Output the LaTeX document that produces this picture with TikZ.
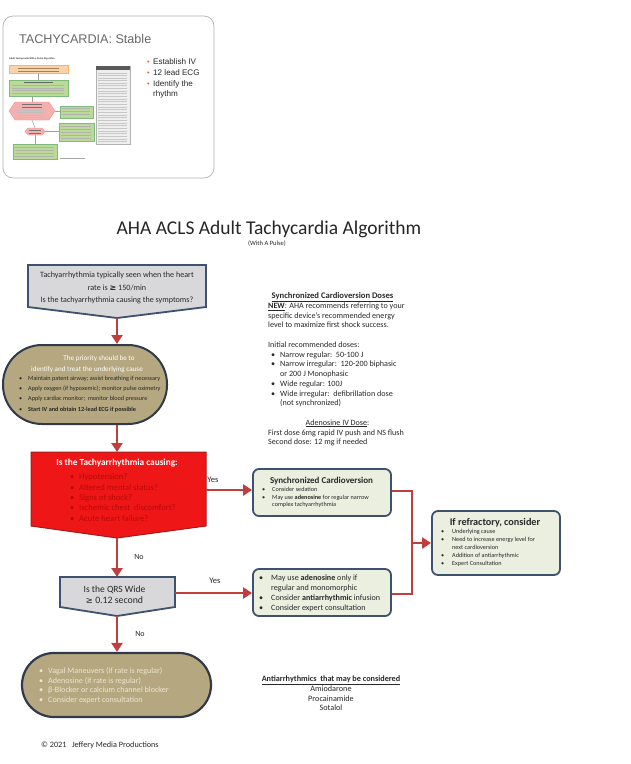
\documentclass[tikz,border=0pt]{standalone}
\usepackage{fontspec}
\setmainfont{Carlito}
\newfontfamily\arialf{Liberation Sans}
\newfontfamily\dejavu{DejaVu Sans}
\usetikzlibrary{arrows.meta}
\definecolor{arrred}{RGB}{192,62,62}
\definecolor{navyb}{RGB}{62,82,112}
\definecolor{grayf}{RGB}{216,216,218}
\definecolor{tanf}{RGB}{181,168,128}
\definecolor{tanb}{RGB}{48,58,72}
\definecolor{redf}{RGB}{238,22,22}
\definecolor{redb}{RGB}{160,30,30}
\definecolor{redtxt}{RGB}{185,10,10}
\definecolor{greenf}{RGB}{234,239,224}
\definecolor{txt}{RGB}{40,40,40}
\definecolor{lighttxt}{RGB}{236,230,210}
\definecolor{slidegray}{RGB}{105,105,105}
\definecolor{bulor}{RGB}{222,110,60}
\definecolor{thorange}{RGB}{250,210,170}
\definecolor{thgreen}{RGB}{186,218,150}
\definecolor{thpink}{RGB}{244,175,175}
\definecolor{thpanel}{RGB}{238,238,238}
\begin{document}
\begin{tikzpicture}[x=1pt,y=-1pt,
  arr/.style={draw=arrred,line width=2.6pt,-{Triangle[length=9pt,width=11pt]}},
  conn/.style={draw=arrred,line width=2.6pt},
  lt/.style={anchor=base west,inner sep=0pt},
  ct/.style={anchor=base,inner sep=0pt},
  fR/.style={font=\fontsize{8.1}{9}\selectfont,text=txt},
  fB2/.style={font=\fontsize{6.2}{8}\selectfont,text=txt},
  fS/.style={font=\fontsize{6.2}{7}\selectfont,text=txt},
  fW/.style={font=\fontsize{8.1}{9}\selectfont,text=txt},
  fV/.style={font=\fontsize{8.1}{9}\selectfont,text=lighttxt},
  fRd/.style={font=\fontsize{8.6}{9}\selectfont,text=redtxt},
  fL/.style={font=\fontsize{8.2}{9}\selectfont,text=txt},
  rbox/.style={draw=navyb,fill=greenf,line width=1.8pt,rounded corners=6pt,inner sep=0pt},
  thl/.style={draw=gray!75,line width=0.5pt},
  thbox/.style={line width=0.35pt}
]
\useasboundingbox (0,0) rectangle (630,764);
\fill[white] (0,0) rectangle (630,764);

% ---------------- slide thumbnail ----------------
\draw[draw=gray!60,line width=0.7pt,rounded corners=10pt,fill=white] (3,16) rectangle (214,178);
\node[lt,font=\arialf\fontsize{12.6}{14}\selectfont,text=slidegray] (sltitle) at (19,43.5) {TACHYCARDIA: Stable};
\node[lt,font=\arialf\fontsize{7.5}{9}\selectfont,text=bulor] (sb1) at (147,64) {•};
\node[lt,font=\arialf\fontsize{7.5}{9}\selectfont,text=bulor] (sb2) at (147,75) {•};
\node[lt,font=\arialf\fontsize{7.5}{9}\selectfont,text=bulor] (sb3) at (147,86) {•};
\node[lt,font=\arialf\fontsize{8.1}{10}\selectfont,text=txt] (st1) at (153,64.5) {Establish IV};
\node[lt,font=\arialf\fontsize{8.1}{10}\selectfont,text=txt] (st2) at (153,75.5) {12 lead ECG};
\node[lt,font=\arialf\fontsize{8.1}{10}\selectfont,text=txt] (st3) at (153,86.5) {Identify the};
\node[lt,font=\arialf\fontsize{8.1}{10}\selectfont,text=txt] (st4) at (153,96.5) {rhythm};
% mini algorithm
\node[lt,font=\arialf\bfseries\fontsize{2.3}{3}\selectfont,text=txt] (thtitle) at (9,59) {Adult Tachycardia With a Pulse Algorithm};
\draw[thl] (38,73) -- (38,80);
\draw[thl] (32,96) -- (32,102);
\draw[thl] (55,111) -- (60,111);
\draw[thl] (32,120) -- (35,128);
\draw[thl] (45,131.5) -- (59,131.5);
\draw[thl] (35,135) -- (35,144);
\draw[thbox,fill=thorange,draw=orange!60] (9,65) rectangle (68,73);
\draw[thbox,fill=thgreen,draw=green!45!black!50] (9,80) rectangle (68,96);
\draw[thbox,fill=thpink,draw=red!45] (9,111) -- (15,102) -- (49,102) -- (55,111) -- (49,120) -- (15,120) -- cycle;
\draw[thbox,fill=thgreen,draw=green!45!black!50] (60,106) rectangle (93,118);
\draw[thbox,fill=thpink,draw=red!45] (25,131.5) -- (28,128) -- (42,128) -- (45,131.5) -- (42,135) -- (28,135) -- cycle;
\draw[thbox,fill=thgreen,draw=green!45!black!50] (59,123) rectangle (94,141);
\draw[thbox,fill=thgreen,draw=green!45!black!50] (13,144) rectangle (57,159);
\draw[thbox,fill=thpanel,draw=gray!60] (96,66) rectangle (130,144);
\fill[gray!70!black] (96,66) rectangle (130,69.5);
\foreach \yy in {68.2,70.8} \draw[draw=gray!70!orange,line width=0.4pt] (18,\yy) -- (59,\yy);
\draw[draw=black!60,line width=0.5pt] (24,82.5) -- (53,82.5);
\foreach \yy in {85.5,88,90.5,93} \draw[draw=black!30,line width=0.4pt] (12,\yy) -- (64,\yy);
\foreach \yy in {104.5,107} \draw[draw=black!55,line width=0.4pt] (22,\yy) -- (42,\yy);
\foreach \yy in {110,112.5,115,117.5} \draw[draw=black!25,line width=0.4pt] (17,\yy) -- (44,\yy);
\foreach \yy in {108.5,111.5,114.5} \draw[draw=black!30,line width=0.4pt] (62,\yy) -- (90,\yy);
\foreach \yy in {130.5,132.8} \draw[draw=black!55,line width=0.4pt] (29,\yy) -- (41,\yy);
\foreach \yy in {126,129,132,135,138} \draw[draw=black!30,line width=0.4pt] (61,\yy) -- (91,\yy);
\foreach \yy in {147,150,153,156} \draw[draw=black!30,line width=0.4pt] (15,\yy) -- (54,\yy);
\foreach \yy in {73,75.5,78,80.5,83,85.5,88,91,93.5,96,99,101.5,104,107,109.5,112,115,117.5,120,123,125.5,128,131,133.5,136,139,141.5}
  \draw[draw=black!22,line width=0.4pt] (98,\yy) -- (127,\yy);
\draw[draw=black!35,line width=0.4pt] (60,158) -- (85,158);

% ---------------- main title ----------------
\node[ct,font=\fontsize{19.5}{22}\selectfont,text=black!85] (title) at (269,234.5) {AHA ACLS Adult Tachycardia Algorithm};
\node[ct,font=\fontsize{6.5}{7}\selectfont,text=txt] (subt) at (267,245) {(With A Pulse)};

% ---------------- box 1 ----------------
\draw[fill=grayf,draw=navyb,line width=1.8pt] (28,265) -- (206,265) -- (206,307) -- (117,318) -- (28,307) -- cycle;
\coordinate (b1tip) at (117,318);
\node[ct,font=\fontsize{8.1}{9}\selectfont,text=txt] (b1l1) at (117,277.5) {Tachyarrhythmia typically seen when the heart};
\node[ct,font=\fontsize{8.1}{9}\selectfont,text=txt] (b1l2) at (117,290) {rate is {\dejavu\bfseries ≥} 150/min};
\node[ct,font=\fontsize{8.1}{9}\selectfont,text=txt] (b1l3) at (117,302.5) {Is the tachyarrhythmia causing the symptoms?};

% ---------------- box 2 (priority) ----------------
\node[draw=tanb,fill=tanf,line width=2pt,rounded corners=39pt,minimum width=164pt,minimum height=79pt,inner sep=0pt] (b2) at (85,384.5) {};
\draw[arr] (b1tip) -- (b1tip |- b2.north);
\node[ct,font=\fontsize{7.1}{9}\selectfont,text=white] (b2h1) at (99,360.5) {The priority should be to};
\node[ct,font=\fontsize{7.1}{9}\selectfont,text=white] (b2h2) at (87,371) {identify and treat the underlying cause};
\node[lt,fB2] (b2d1) at (19,380.5) {•};
\node[lt,fB2] (b2d2) at (19,390.5) {•};
\node[lt,fB2] (b2d3) at (19,400.5) {•};
\node[lt,fB2] (b2d4) at (19,411) {•};
\node[lt,fB2] (b2t1) at (28,380.5) {Maintain patent airway; assist breathing if necessary};
\node[lt,fB2] (b2t2) at (28,390.5) {Apply oxygen (if hypoxemic); monitor pulse oximetry};
\node[lt,fB2] (b2t3) at (28,400.5) {Apply cardiac monitor;\ \ monitor blood pressure};
\node[lt,fB2] (b2t4) at (28,411) {\bfseries Start IV and obtain 12-lead ECG if possible};

% ---------------- red decision ----------------
\draw[fill=redf,draw=redb,line width=1pt] (31,452) -- (206,452) -- (206,526) -- (117,538) -- (31,526) -- cycle;
\coordinate (redtop) at (117,452);
\coordinate (redtip) at (117,538);
\coordinate (redR) at (206,490);
\draw[arr] (redtop |- b2.south) -- (redtop);
\node[ct,font=\bfseries\fontsize{9.3}{10}\selectfont,text=white] (rh) at (117,465) {Is the Tachyarrhythmia causing:};
\foreach \yy/\tt [count=\i] in {479.5/Hypotension?,490/Altered mental status?,500/Signs of shock?,510.5/Ischemic chest\ \ discomfort?,521.5/Acute heart failure?}{
  \node[lt,fRd] (rd\i) at (70,\yy) {•};
  \node[lt,fRd] (rt\i) at (79,\yy) {\tt};
}

% ---------------- QRS decision ----------------
\draw[fill=grayf,draw=navyb,line width=1.8pt] (60,577) -- (175,577) -- (175,607) -- (117,616) -- (60,607) -- cycle;
\coordinate (qrstop) at (117,577);
\coordinate (qrstip) at (117,616);
\coordinate (qrsR) at (175,593);
\node[ct,font=\fontsize{9.5}{10}\selectfont,text=txt] (q1) at (114.5,592) {Is the QRS Wide};
\node[ct,font=\fontsize{9.8}{10}\selectfont,text=txt] (q2) at (114.5,603) {{\dejavu\fontsize{8.5}{10}\selectfont ≥} 0.12 second};
\draw[arr] (redtip) -- (qrstop);
\node[ct,font=\fontsize{8}{9}\selectfont,text=txt] (no1) at (139,559) {No};

% ---------------- vagal box ----------------
\node[draw=tanb,fill=tanf,line width=2.2pt,rounded corners=32pt,minimum width=189pt,minimum height=64pt,inner sep=0pt] (vag) at (116.5,685) {};
\draw[arr] (qrstip) -- (qrstip |- vag.north);
\node[ct,font=\fontsize{8}{9}\selectfont,text=txt] (no2) at (140,636) {No};
\foreach \yy/\tt [count=\i] in {673.5/Vagal Maneuvers (if rate is regular),683/Adenosine (if rate is regular),692.5/β-Blocker or calcium channel blocker,702.5/Consider expert consultation}{
  \node[lt,fV] (vd\i) at (39,\yy) {•};
  \node[lt,fV] (vt\i) at (48,\yy) {\tt};
}
\node[lt,font=\fontsize{8.2}{9}\selectfont,text=txt] (foot) at (41,747.5) {© 2021\ \ \ Jeffery Media Productions};

% ---------------- synchronized cardioversion ----------------
\node[rbox,minimum width=138pt,minimum height=47pt] (sync) at (322,492.5) {};
\draw[arr] (redR) -- (sync.west |- redR);
\node[ct,font=\fontsize{8.5}{9}\selectfont,text=txt] (yes1) at (213,482) {Yes};
\node[ct,font=\bfseries\fontsize{9}{10}\selectfont,text=txt] (syh) at (321.5,483) {Synchronized Cardioversion};
\node[lt,fS] (syd1) at (262,491) {•};
\node[lt,fS] (syt1) at (272,491) {Consider sedation};
\node[lt,fS] (syd2) at (262,499) {•};
\node[lt,fS] (syt2) at (272,499) {May use \textbf{adenosine} for regular narrow};
\node[lt,fS] (syt3) at (272,506.5) {complex tachyarrhythmia};

% ---------------- wide QRS treatment ----------------
\node[rbox,minimum width=138pt,minimum height=47pt] (wide) at (322,592.5) {};
\draw[arr] (qrsR) -- (wide.west |- qrsR);
\node[ct,font=\fontsize{8.5}{9}\selectfont,text=txt] (yes2) at (215,583) {Yes};
\node[lt,fW] (wd1) at (259,580.5) {•};
\node[lt,fW] (wt1) at (271,580.5) {May use \textbf{adenosine} only if};
\node[lt,fW] (wt2) at (271,590.5) {regular and monomorphic};
\node[lt,fW] (wd3) at (259,600.5) {•};
\node[lt,fW] (wt3) at (271,600.5) {Consider \textbf{antiarrhythmic} infusion};
\node[lt,fW] (wd4) at (259,610.5) {•};
\node[lt,fW] (wt4) at (271,610.5) {Consider expert consultation};

% ---------------- refractory ----------------
\node[rbox,minimum width=128pt,minimum height=64pt] (refr) at (496,543) {};
\coordinate (jt) at (412,491);
\coordinate (jb) at (412,594);
\coordinate (jm) at (412,543);
\draw[conn] (sync.east |- jt) -- (jt) -- (jb) -- (wide.east |- jb);
\draw[arr] (jm) -- (refr.west |- jm);
\node[ct,font=\bfseries\fontsize{10.2}{11}\selectfont,text=txt] (rfh) at (495,525.5) {If refractory, consider};
\node[lt,fS] (rfd1) at (441,533) {•};
\node[lt,fS] (rft1) at (452,533) {Underlying cause};
\node[lt,fS] (rfd2) at (441,541) {•};
\node[lt,fS] (rft2) at (452,541) {Need to increase energy level for};
\node[lt,fS] (rft3) at (452,549) {next cardioversion};
\node[lt,fS] (rfd4) at (441,557) {•};
\node[lt,fS] (rft4) at (452,557) {Addition of antiarrhythmic};
\node[lt,fS] (rfd5) at (441,565) {•};
\node[lt,fS] (rft5) at (452,565) {Expert Consultation};

% ---------------- right text column ----------------
\node[ct,font=\bfseries\fontsize{8.6}{9}\selectfont,text=txt] (cdh) at (332.5,298.5) {\underline{Synchronized Cardioversion Doses}};
\node[lt,fR] (cd1) at (268,308.5) {\underline{\textbf{NEW}}: AHA recommends referring to your};
\node[lt,fR] (cd2) at (268,318.2) {specific device’s recommended energy};
\node[lt,fR] (cd3) at (268,327.8) {level to maximize first shock success.};
\node[lt,fR] (cd4) at (268,347.2) {Initial recommended doses:};
\node[lt,fR] (cdd5) at (271,357) {•};
\node[lt,fR] (cd5) at (280,357) {Narrow regular:\ \ 50-100 J};
\node[lt,fR] (cdd6) at (271,366.8) {•};
\node[lt,fR] (cd6) at (280,366.8) {Narrow irregular:\ \ 120-200 biphasic};
\node[lt,fR] (cd7) at (280,376.5) {or 200 J Monophasic};
\node[lt,fR] (cdd8) at (271,386.2) {•};
\node[lt,fR] (cd8) at (280,386.2) {Wide regular: 100J};
\node[lt,fR] (cdd9) at (271,396) {•};
\node[lt,fR] (cd9) at (280,396) {Wide irregular:\ \ defibrillation dose};
\node[lt,fR] (cd10) at (280,405.8) {(not synchronized)};
\node[ct,fR] (adh) at (337.5,425.2) {\underline{Adenosine IV Dose}:};
\node[lt,fR] (ad1) at (268,435) {First dose 6mg rapid IV push and NS flush};
\node[lt,fR] (ad2) at (268,444.8) {Second dose: 12 mg if needed};

% ---------------- antiarrhythmics ----------------
\node[ct,font=\bfseries\fontsize{8.2}{9}\selectfont,text=txt] (anh) at (331,681.5) {\underline{Antiarrhythmics\ \ that may be considered}};
\node[ct,fL] (an1) at (331,691.2) {Amiodarone};
\node[ct,fL] (an2) at (331,701) {Procainamide};
\node[ct,fL] (an3) at (331,710.6) {Sotalol};
\end{tikzpicture}
\end{document}
